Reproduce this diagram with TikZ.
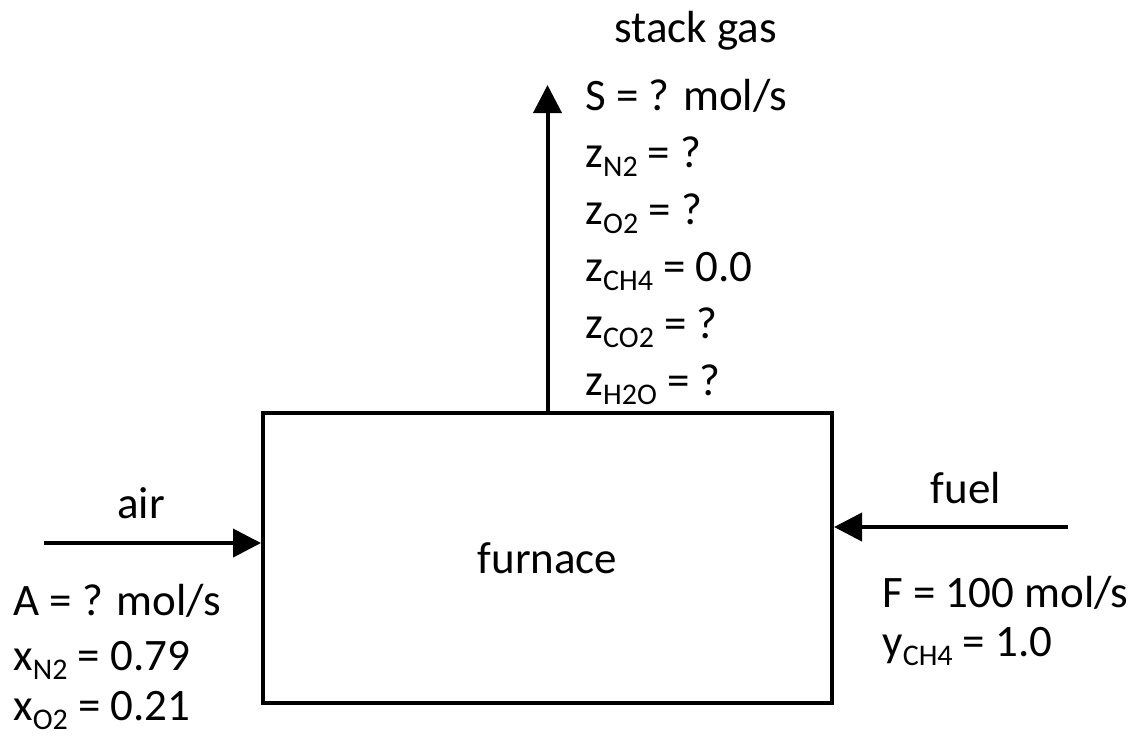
\documentclass[tikz,border=0pt]{standalone}
\usepackage{fontspec}
\setmainfont{Carlito}
\usetikzlibrary{arrows.meta}
\newcommand{\sbs}[1]{\raisebox{-4.5pt}{\fontsize{15}{15}\selectfont #1}}
\begin{document}
\begin{tikzpicture}[x=0.5pt,y=-0.5pt,
  txt/.style={anchor=base west, inner sep=0, font=\fontsize{22.5}{27}\selectfont},
  flow/.style={line width=2pt, -{Triangle[length=14pt,width=14pt]}},
  unit/.style={draw, line width=2pt, minimum width=284.5pt, minimum height=145pt, inner sep=0, font=\fontsize{22.5}{27}\selectfont}]
\useasboundingbox (0,0) rectangle (1143,736);
\node[unit] (box) at (547.5,558) {furnace};
% stack gas
\coordinate (stacktop) at (547.5,85);
\draw[flow] (box.north) -- (stacktop);
\node[txt] (sg) at (614,42) {stack gas};
\node[txt] (s1) at (585,110) {S = ? mol/s};
\node[txt] (s2) at (585,167) {z\sbs{N2} = ?};
\node[txt] (s3) at (585,224) {z\sbs{O2} = ?};
\node[txt] (s4) at (585,281) {z\sbs{CH4} = 0.0};
\node[txt] (s5) at (585,338) {z\sbs{CO2} = ?};
\node[txt] (s6) at (585,395) {z\sbs{H2O} = ?};
% air
\coordinate (airin) at (44,543);
\draw[flow] (airin) -- (airin -| box.west);
\node[txt, anchor=base] (air) at (141,518) {air};
\node[txt] (a1) at (13,615) {A = ? mol/s};
\node[txt] (a2) at (13,670) {x\sbs{N2} = 0.79};
\node[txt] (a3) at (13,720) {x\sbs{O2} = 0.21};
% fuel
\coordinate (fuelin) at (1068,527);
\draw[flow] (fuelin) -- (fuelin -| box.east);
\node[txt, anchor=base] (fuel) at (966,503) {fuel};
\node[txt] (f1) at (882,607) {F = 100 mol/s};
\node[txt] (f2) at (882,656) {y\sbs{CH4} = 1.0};
\end{tikzpicture}
\end{document}
